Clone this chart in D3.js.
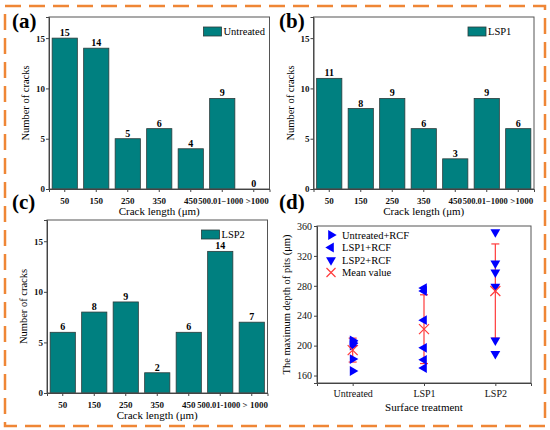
<!DOCTYPE html>
<html>
<head>
<meta charset="utf-8">
<script src="https://cdn.jsdelivr.net/npm/d3@7"></script>
<style>
  body { margin: 0; background: #fff; }
  svg, svg text { font-family: "Liberation Serif", "Times New Roman", "DejaVu Serif", serif; }
</style>
</head>
<body>
<div id="chart"></div>
<script>
// crack length bins and counts
var crackBins = ["50", "150", "250", "350", "450", "500.01\u22121000", ">1000"];
var crackBinsC = ["50", "150", "250", "350", "450", "500.01-1000", "> 1000"];
var untreatedCounts = [15, 14, 5, 6, 4, 9, 0];
var lsp1Counts = [11, 8, 9, 6, 3, 9, 6];
var lsp2Counts = [6, 8, 9, 2, 6, 14, 7];
var countTicks = [0, 5, 10, 15];

// pit depths (um)
var treatments = ["Untreated", "LSP1", "LSP2"];
var untreatedDepths = [166, 182, 200, 203, 205, 207];
var lsp1Depths = [170, 181, 197, 234, 273, 277];
var lsp2Depths = [189, 207, 279, 298, 310, 352];
var meanDepths = [194, 222, 273];
var depthSpread = [16, 46, 63];
var depthTicks = [160, 200, 240, 280, 320, 360];

var width = 550, height = 430;
var teal = "#008080";
var serif = "'Liberation Serif', 'Times New Roman', 'DejaVu Serif', serif";

var svg = d3.select("#chart").append("svg")
  .attr("width", width).attr("height", height)
  .attr("font-family", serif);

// orange dashed border
svg.append("rect")
  .attr("x", 5).attr("y", 6).attr("width", 540).attr("height", 420)
  .attr("fill", "none").attr("stroke", "#ef8636")
  .attr("stroke-width", 2.5).attr("stroke-dasharray", "16,8");

function panelLabel(txt, x, y) {
  svg.append("text").attr("x", x).attr("y", y)
    .attr("font-family", serif)
    .style("font-size", "21px").style("font-weight", "bold")
    .text(txt);
}

function styleAxis(a, size, bold) {
  a.attr("font-family", serif);
  a.select(".domain").attr("stroke", "#444");
  a.selectAll("line").attr("stroke", "#444");
  a.selectAll("text").attr("font-family", serif)
    .style("font-size", size).style("font-weight", bold ? "bold" : "normal").attr("fill", "#111");
}

function barPanel(box, labels, counts, legendText, lbl) {
  var g = svg.append("g");
  var x = d3.scaleBand().domain(labels).range([box.left, box.right]).paddingInner(0.2).paddingOuter(0.1);
  var y = d3.scaleLinear().domain([0, 17.1]).range([box.bottom, box.top]);

  g.selectAll(".bar").data(counts).enter().append("rect")
    .attr("x", function (d, i) { return x(labels[i]); })
    .attr("y", function (d) { return y(d); })
    .attr("width", x.bandwidth())
    .attr("height", function (d) { return y(0) - y(d); })
    .attr("fill", teal).attr("stroke", "#2b3b3b").attr("stroke-width", 0.8);

  g.selectAll(".val").data(counts).enter().append("text")
    .attr("x", function (d, i) { return x(labels[i]) + x.bandwidth() / 2; })
    .attr("y", function (d) { return y(d) - 2; })
    .attr("text-anchor", "middle")
    .style("font-size", "10px").style("font-weight", "bold")
    .text(function (d) { return d; });

  // frame
  g.append("rect")
    .attr("x", box.left).attr("y", box.top)
    .attr("width", box.right - box.left).attr("height", box.bottom - box.top)
    .attr("fill", "none").attr("stroke", "#555").attr("stroke-width", 1);

  var xa = g.append("g").attr("transform", "translate(0," + box.bottom + ")")
    .call(d3.axisBottom(x).tickSize(3).tickPadding(6));
  var ya = g.append("g").attr("transform", "translate(" + box.left + ",0)")
    .call(d3.axisLeft(y).tickValues(countTicks).tickSize(3).tickPadding(1));
  styleAxis(xa, "9px", true);
  styleAxis(ya, "9px", true);
  // the last two bin labels are wide; nudge them apart a little
  xa.selectAll(".tick text")
    .attr("dx", function (d, i) { return i === 5 ? -1.5 : (i === 6 ? 3.5 : 0); })
    .style("font-size", function (d, i) { return i === 5 ? "8.5px" : "9px"; });

  g.append("text")
    .attr("transform", "translate(" + (box.left - 20) + "," + ((box.top + box.bottom) / 2) + ") rotate(-90)")
    .attr("text-anchor", "middle")
    .style("font-size", "10.5px")
    .text("Number of cracks");

  g.append("text")
    .attr("x", (box.left + box.right) / 2).attr("y", box.bottom + 26)
    .attr("text-anchor", "middle")
    .style("font-size", "11px")
    .text("Crack length (\u03bcm)");

  // legend
  g.append("rect")
    .attr("x", box.right - 66).attr("y", box.top + 10)
    .attr("width", 18).attr("height", 9)
    .attr("fill", teal).attr("stroke", "#2b3b3b").attr("stroke-width", 0.8);
  g.append("text")
    .attr("x", box.right - 46).attr("y", box.top + 18)
    .style("font-size", "10.5px")
    .text(legendText);

  panelLabel(lbl.text, lbl.x, lbl.y);
}

barPanel({ left: 49, right: 269.5, top: 17, bottom: 189 }, crackBins, untreatedCounts, "Untreated", { text: "(a)", x: 12, y: 28 });
barPanel({ left: 313.5, right: 534, top: 17, bottom: 189 }, crackBins, lsp1Counts, "LSP1", { text: "(b)", x: 279, y: 28 });
barPanel({ left: 47, right: 267.5, top: 220, bottom: 393 }, crackBinsC, lsp2Counts, "LSP2", { text: "(c)", x: 12, y: 209 });

// panel (d)
var box = { left: 317, right: 531, top: 226, bottom: 383 };
var gd = svg.append("g");
var xd = d3.scaleLinear().domain([0.5, 3.5]).range([box.left, box.right]);
var yd = d3.scaleLinear().domain([150, 360]).range([box.bottom, box.top]);

gd.append("rect")
  .attr("x", box.left).attr("y", box.top)
  .attr("width", box.right - box.left).attr("height", box.bottom - box.top)
  .attr("fill", "none").attr("stroke", "#555").attr("stroke-width", 1);

var xda = gd.append("g").attr("transform", "translate(0," + box.bottom + ")")
  .call(d3.axisBottom(xd).tickValues([1, 2, 3]).tickFormat(function (d) { return treatments[d - 1]; }).tickSize(3).tickPadding(4));
var yda = gd.append("g").attr("transform", "translate(" + box.left + ",0)")
  .call(d3.axisLeft(yd).tickValues(depthTicks).tickSize(3).tickPadding(2));
styleAxis(xda, "10px", false);
styleAxis(yda, "10px", false);

gd.append("text")
  .attr("transform", "translate(290," + ((box.top + box.bottom) / 2) + ") rotate(-90)")
  .attr("text-anchor", "middle")
  .style("font-size", "10.5px")
  .text("The maximum depth of pits (\u03bcm)");
gd.append("text")
  .attr("x", (box.left + box.right) / 2).attr("y", 411)
  .attr("text-anchor", "middle")
  .style("font-size", "11px")
  .text("Surface treatment");

var tri = d3.symbol().type(d3.symbolTriangle).size(42);
var depthSets = [
  { vals: untreatedDepths, rot: 90 },
  { vals: lsp1Depths, rot: -90 },
  { vals: lsp2Depths, rot: 180 }
];

// error bars
var capW = 4;
meanDepths.forEach(function (m, i) {
  var cx = xd(i + 1);
  var lo = yd(m - depthSpread[i]), hi = yd(m + depthSpread[i]);
  gd.append("line").attr("x1", cx).attr("x2", cx).attr("y1", lo).attr("y2", hi)
    .attr("stroke", "#ff3b3b").attr("stroke-width", 1.2);
  [lo, hi].forEach(function (yy) {
    gd.append("line").attr("x1", cx - capW).attr("x2", cx + capW).attr("y1", yy).attr("y2", yy)
      .attr("stroke", "#ff3b3b").attr("stroke-width", 1.2);
  });
});

depthSets.forEach(function (s, i) {
  gd.selectAll(".pt" + i).data(s.vals).enter().append("path")
    .attr("d", tri)
    .attr("transform", function (d) { return "translate(" + xd(i + 1) + "," + yd(d) + ") rotate(" + s.rot + ")"; })
    .attr("fill", "#0000ff");
});

function cross(g, cx, cy, r) {
  g.append("path")
    .attr("d", "M" + (cx - r) + "," + (cy - r) + "L" + (cx + r) + "," + (cy + r) + "M" + (cx - r) + "," + (cy + r) + "L" + (cx + r) + "," + (cy - r))
    .attr("stroke", "#ff3b3b").attr("stroke-width", 1.2).attr("fill", "none");
}
meanDepths.forEach(function (m, i) { cross(gd, xd(i + 1), yd(m), 5); });

// legend (d)
var legendItems = ["Untreated+RCF", "LSP1+RCF", "LSP2+RCF", "Mean value"];
legendItems.forEach(function (t, i) {
  var ly = 235 + i * 12.5;
  if (i < 3) {
    gd.append("path").attr("d", tri)
      .attr("transform", "translate(331," + ly + ") rotate(" + depthSets[i].rot + ")")
      .attr("fill", "#0000ff");
  } else {
    cross(gd, 331, ly, 4.5);
  }
  gd.append("text").attr("x", 342).attr("y", ly + 3.5)
    .style("font-size", "10.5px").text(t);
});

panelLabel("(d)", 279, 209);
</script>
</body>
</html>
